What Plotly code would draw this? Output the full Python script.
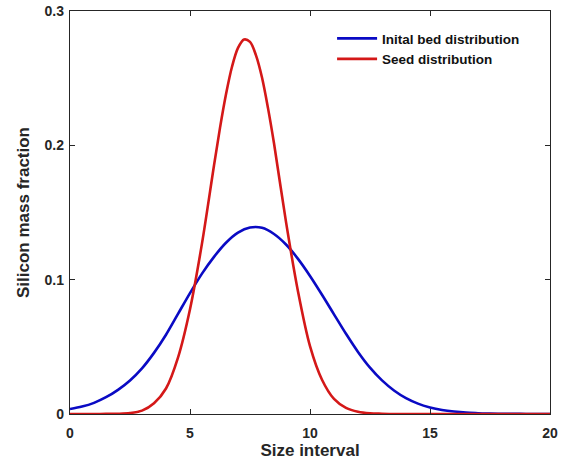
import plotly.graph_objects as go

size_interval = [0, 0.5, 1, 1.5, 2, 2.5, 3, 3.5, 4, 4.5, 5, 5.5, 6, 6.5, 7, 7.5, 8, 8.5, 9, 9.5,
                 10, 10.5, 11, 11.5, 12, 12.5, 13, 13.5, 14, 14.5, 15, 15.5, 16, 16.5, 17, 17.5,
                 18, 18.5, 19, 19.5, 20]

initial_bed = [0.0037, 0.0055, 0.0083, 0.0125, 0.0180, 0.0250, 0.0340, 0.0455, 0.0590, 0.0745,
               0.0900, 0.1045, 0.1170, 0.1275, 0.1350, 0.1388, 0.1386, 0.1340, 0.1262, 0.1155,
               0.1028, 0.0888, 0.0742, 0.0597, 0.0462, 0.0345, 0.0250, 0.0175, 0.0118, 0.0077,
               0.0049, 0.0030, 0.0018, 0.0010, 0.0006, 0.0003, 0.0002, 0.0001, 0.00005, 0.00002, 0.0]

seed_x = [0, 0.5, 1, 1.5, 2, 2.5, 3, 3.5, 4, 4.5, 5, 5.5, 6, 6.25, 6.5, 6.75, 7, 7.25, 7.5,
          7.75, 8, 8.25, 8.5, 9, 9.5, 10, 10.5, 11, 11.5, 12, 12.5, 13, 13.5, 14, 15, 16,
          17, 18, 19, 20]

seed = [0.0, 0.0, 0.0, 0.0001, 0.0002, 0.0007, 0.0025, 0.0080, 0.0190, 0.0420,
        0.0780, 0.1270, 0.1850, 0.2130, 0.2380, 0.2585, 0.2725, 0.2788, 0.2770,
        0.2670, 0.2505, 0.2277, 0.2015, 0.1430, 0.0912, 0.0505, 0.0255, 0.0112,
        0.0045, 0.0016, 0.0005, 0.0002, 0.0, 0.0, 0.0, 0.0,
        0.0, 0.0, 0.0, 0.0]

x_ticks = [0, 5, 10, 15, 20]
y_ticks = [0, 0.1, 0.2, 0.3]
y_tick_labels = ["0", "0.1", "0.2", "0.3"]

names = ["Inital bed distribution", "Seed distribution"]
colors = ["#0a0ac4", "#d41818"]

FONT = "Liberation Sans, Arial, Helvetica, sans-serif"
AX = "#262626"

fig = go.Figure()
for xs, ys, nm, c in zip([size_interval, seed_x], [initial_bed, seed], names, colors):
    fig.add_trace(go.Scatter(x=xs, y=ys, mode="lines", name=nm,
                             line=dict(color=c, width=2.6, shape="spline", smoothing=0.9)))

axis_common = dict(showline=True, linecolor=AX, linewidth=1.3, mirror="allticks",
                   ticks="inside", ticklen=5, tickwidth=1.2, tickcolor=AX,
                   showgrid=False, zeroline=False, automargin=False,
                   tickfont=dict(family=FONT, size=14, color=AX, weight="bold"))

fig.update_layout(
    width=568, height=463,
    margin=dict(l=70, r=18, t=11, b=49),
    paper_bgcolor="white", plot_bgcolor="white",
    font=dict(family=FONT, color=AX),
    xaxis=dict(range=[0, 20], tickvals=x_ticks, ticktext=[str(v) for v in x_ticks],
               ticklabelstandoff=6,
               title=dict(text="<b>Size interval</b>", font=dict(family=FONT, size=17, color=AX), standoff=3),
               **axis_common),
    yaxis=dict(range=[0, 0.3], tickvals=y_ticks, ticktext=y_tick_labels,
               ticklabelstandoff=2,
               title=dict(text="<b>Silicon mass fraction</b>", font=dict(family=FONT, size=17, color=AX), standoff=10),
               **axis_common),
    legend=dict(x=0.546, y=0.97, xanchor="left", yanchor="top",
                bgcolor="rgba(0,0,0,0)", borderwidth=0,
                font=dict(family=FONT, size=13.5, color="#111111", weight="bold"),
                tracegroupgap=0, itemwidth=40),
    showlegend=True,
)

fig.write_html("out.html", config={"displayModeBar": False},
               post_script="document.body.style.margin='0';")
